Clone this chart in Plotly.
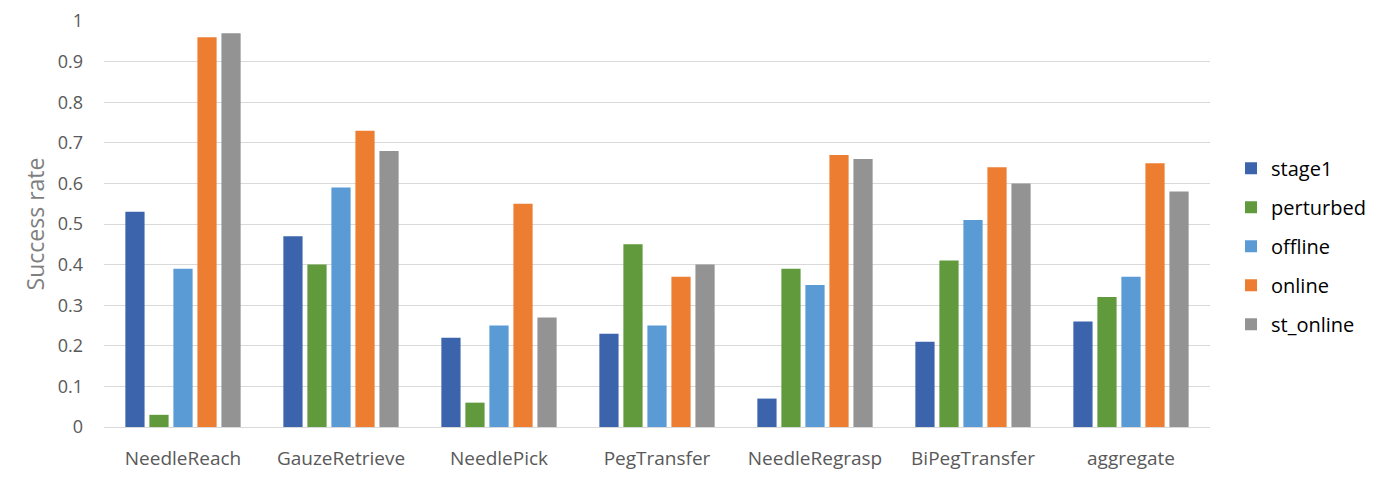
import plotly.graph_objects as go

categories = ["NeedleReach", "GauzeRetrieve", "NeedlePick", "PegTransfer",
              "NeedleRegrasp", "BiPegTransfer", "aggregate"]
stage1 = [0.53, 0.47, 0.22, 0.23, 0.07, 0.21, 0.26]
perturbed = [0.03, 0.40, 0.06, 0.45, 0.39, 0.41, 0.32]
offline = [0.39, 0.59, 0.25, 0.25, 0.35, 0.51, 0.37]
online = [0.96, 0.73, 0.55, 0.37, 0.67, 0.64, 0.65]
st_online = [0.97, 0.68, 0.27, 0.40, 0.66, 0.60, 0.58]
y_ticks = [0, 0.1, 0.2, 0.3, 0.4, 0.5, 0.6, 0.7, 0.8, 0.9, 1]
y_tick_labels = ["0", "0.1", "0.2", "0.3", "0.4", "0.5", "0.6", "0.7", "0.8", "0.9", "1"]

series = [
    ("stage1", stage1, "#3C64AC"),
    ("perturbed", perturbed, "#609A3C"),
    ("offline", offline, "#5B9BD5"),
    ("online", online, "#ED7D31"),
    ("st_online", st_online, "#939393"),
]

fig = go.Figure()
for name, vals, color in series:
    fig.add_trace(go.Bar(x=categories, y=vals, name=name, marker_color=color,
                         marker_line_width=0, legendgroup=name))

# the page body adds an 8px margin, so the figure is sized/shifted to compensate
font_family = "Open Sans, Liberation Sans, sans-serif"
fig.update_layout(
    width=1368, height=470,
    margin=dict(l=96, r=166, t=13, b=51, autoexpand=False),
    paper_bgcolor="white", plot_bgcolor="white",
    barmode="group", bargap=0.24, bargroupgap=0.2,
    font=dict(family=font_family, size=18, color="#595959"),
    legend=dict(x=1.019, xanchor="left", y=0.445, yanchor="middle",
                font=dict(size=20, color="#000000"),
                traceorder="grouped", tracegroupgap=10,
                itemwidth=30),
    showlegend=True,
)
fig.update_xaxes(showgrid=False, showline=True, linecolor="#D9D9D9", linewidth=1,
                 ticks="", ticklabelstandoff=14, automargin=False,
                 tickfont=dict(size=19, color="#595959"))
fig.update_yaxes(range=[0, 1.0001], tickvals=y_ticks, ticktext=y_tick_labels,
                 showgrid=True, gridcolor="#D9D9D9", gridwidth=1, automargin=False,
                 zeroline=False, showline=False, ticks="", ticklabelstandoff=20,
                 ticklabeloverflow="allow",
                 tickfont=dict(size=18, color="#595959"),
                 title=dict(text="Success rate", font=dict(size=23, color="#7F7F7F"), standoff=6))

fig.write_html("out.html")
